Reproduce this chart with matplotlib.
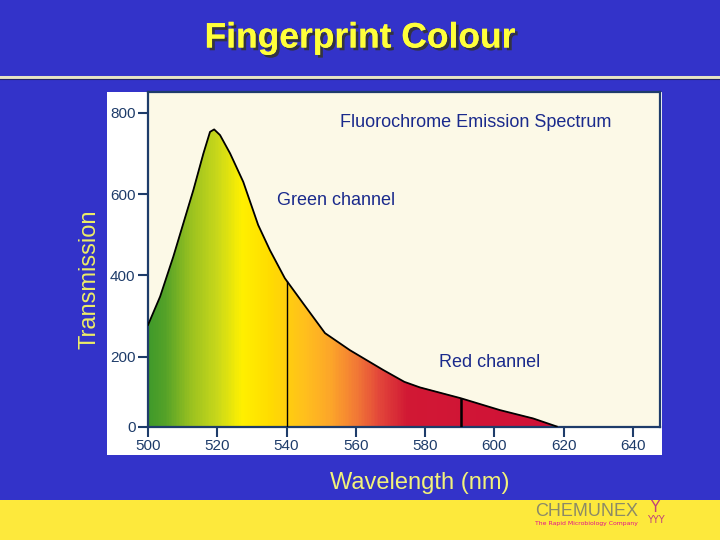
"""
Fingerprint Colour slide: fluorochrome emission spectrum with a
wavelength-coloured fill, green/red channel cut-offs.
Writes out.png (720x540).
"""
import numpy as np
import matplotlib
matplotlib.use("Agg")
import matplotlib.pyplot as plt
from matplotlib.colors import LinearSegmentedColormap, Normalize
from matplotlib.patches import Polygon, Rectangle
from matplotlib.lines import Line2D
from matplotlib import patheffects

# ── data ──
wavelength = [500, 503.5, 507.3, 510.2, 513.1, 516.0, 517.9, 519.1, 520.8, 523.7,
              527.5, 531.8, 535.2, 539.5, 544.8, 551.1, 558.3, 567.9, 574.0, 578.5,
              590.3, 601.6, 611.2, 618.0]
transmission = [278, 348, 446, 528, 610, 700, 753, 759, 745, 700,
                630, 524, 462, 393, 331, 258, 216, 162, 128, 112,
                81, 47, 23, 0]
channel_marks = [540, 590.3]                     # green / red channel cut-offs
x_ticks = [500, 520, 540, 560, 580, 600, 620, 640]
y_ticks = [0, 200, 400, 600, 800]

# colour of the fill along the spectrum (nm, colour)
grad_nm = [500, 505, 512, 520, 527, 535, 545, 553, 560, 567, 575, 620]
grad_col = ["#3f992a", "#55a228", "#98c020", "#c9d81a", "#fff000", "#ffdc00",
            "#ffc01c", "#fca42a", "#f27a35", "#e2453a", "#d11834", "#cf1038"]

BLUE = "#3333c9"
YELLOW = "#ffff3a"
INK = "#1a2a8c"
AXC = "#1e3c6a"

# the slide's y axis is squeezed below 200 — piecewise linear scale
SEG = [-1000, 0, 200, 3000]
PIX = [-349.0, 0, 69.8, 69.8 + 2800 * 0.4067]


def fwd(v):
    return np.interp(v, SEG, PIX)


def inv(u):
    return np.interp(u, PIX, SEG)


fig = plt.figure(figsize=(7.2, 5.4), dpi=100)
fig.patch.set_facecolor(BLUE)

# bottom yellow band + white card + divider line
fig.patches.append(Rectangle((0, 0), 1, 40 / 540, transform=fig.transFigure,
                             facecolor="#fde93c", edgecolor="none", zorder=0))
fig.patches.append(Rectangle((107 / 720, 85 / 540), 555 / 720, 363 / 540,
                             transform=fig.transFigure, facecolor="white",
                             edgecolor="none", zorder=0))
fig.lines.append(Line2D([0, 1], [1 - 77 / 540] * 2, transform=fig.transFigure,
                        color="#e6e4c4", lw=2.2))
fig.lines.append(Line2D([0, 1], [1 - 79 / 540] * 2, transform=fig.transFigure,
                        color="#22226a", lw=0.8))

ax = fig.add_axes([148 / 720, 113.5 / 540, 512 / 720, 334.5 / 540])
ax.set_zorder(2)
ax.set_facecolor("#fcf9e7")
ax.set_yscale("function", functions=(fwd, inv))
ax.set_xlim(500, 647.8)
ax.set_ylim(0, 851)

# gradient fill clipped to the area under the curve
xe = np.linspace(500, 620, 481)
xc = ((xe[:-1] + xe[1:]) / 2)[None, :]
cmap = LinearSegmentedColormap.from_list(
    "spec", [((n - 500) / 120, c) for n, c in zip(grad_nm, grad_col)])
mesh = ax.pcolormesh(xe, [0, 900], xc, cmap=cmap, norm=Normalize(500, 620),
                     shading="flat", zorder=1)
clip = Polygon(list(zip(wavelength, transmission)) + [(wavelength[-1], 0), (500, 0)],
               closed=True, transform=ax.transData)
mesh.set_clip_path(clip)

ax.plot(wavelength, transmission, color="black", lw=1.3, zorder=3)
tops = np.interp(channel_marks, wavelength, transmission)
ax.vlines(channel_marks, 0, tops, colors="black", lw=[1.0, 1.8], zorder=3)

# axes styling
for s in ax.spines.values():
    s.set_color(AXC)
    s.set_linewidth(1.6)
ax.set_xticks(x_ticks)
ax.set_yticks(y_ticks)
ax.minorticks_off()
ax.tick_params(direction="out", length=7, width=1.5, color=AXC,
               labelcolor=AXC, labelsize=11, pad=2)
for lbl in ax.get_xticklabels() + ax.get_yticklabels():
    lbl.set_fontfamily("Liberation Sans")

txt = dict(color=INK, fontsize=13, family="Liberation Sans", va="center")
ax.text(594.7, 775, "Fluorochrome Emission Spectrum", ha="center", **txt)
ax.text(537.2, 583, "Green channel", ha="left", **txt)
ax.text(584.0, 182, "Red channel", ha="left", **txt)

# slide texts
fig.text(0.5, 1 - 38 / 540, "Fingerprint Colour", ha="center", va="center",
         color=YELLOW, fontsize=25.5, fontweight="bold", family="Liberation Sans",
         path_effects=[patheffects.withSimplePatchShadow(offset=(2, -2),
                                                         shadow_rgbFace="#333333",
                                                         alpha=0.9),
                       patheffects.Normal()])
fig.text(90 / 720, 1 - 279 / 540, "Transmission", rotation=90, ha="center",
         va="center", color="#eeee66", fontsize=17, family="Liberation Sans")
fig.text(420 / 720, 1 - 483 / 540, "Wavelength (nm)", ha="center", va="center",
         color="#f2f27a", fontsize=17, family="Liberation Sans")

# company logo
fig.text(535 / 720, 1 - 511 / 540, "CHEMUNEX", ha="left", va="center",
         color="#8c8a66", fontsize=13, family="Liberation Sans")
fig.text(535 / 720, 1 - 523.5 / 540, "The Rapid Microbiology Company", ha="left",
         va="center", color="#e0108c", fontsize=4.4, family="Liberation Sans Narrow")
fig.text(655 / 720, 1 - 508 / 540, "Y", ha="center", va="center",
         color="#c0407a", fontsize=11, family="DejaVu Sans")
fig.text(656 / 720, 1 - 520 / 540, "YYY", ha="center", va="center",
         color="#c0407a", fontsize=7, family="DejaVu Sans")

fig.savefig("out.png", dpi=100, facecolor=fig.get_facecolor())
